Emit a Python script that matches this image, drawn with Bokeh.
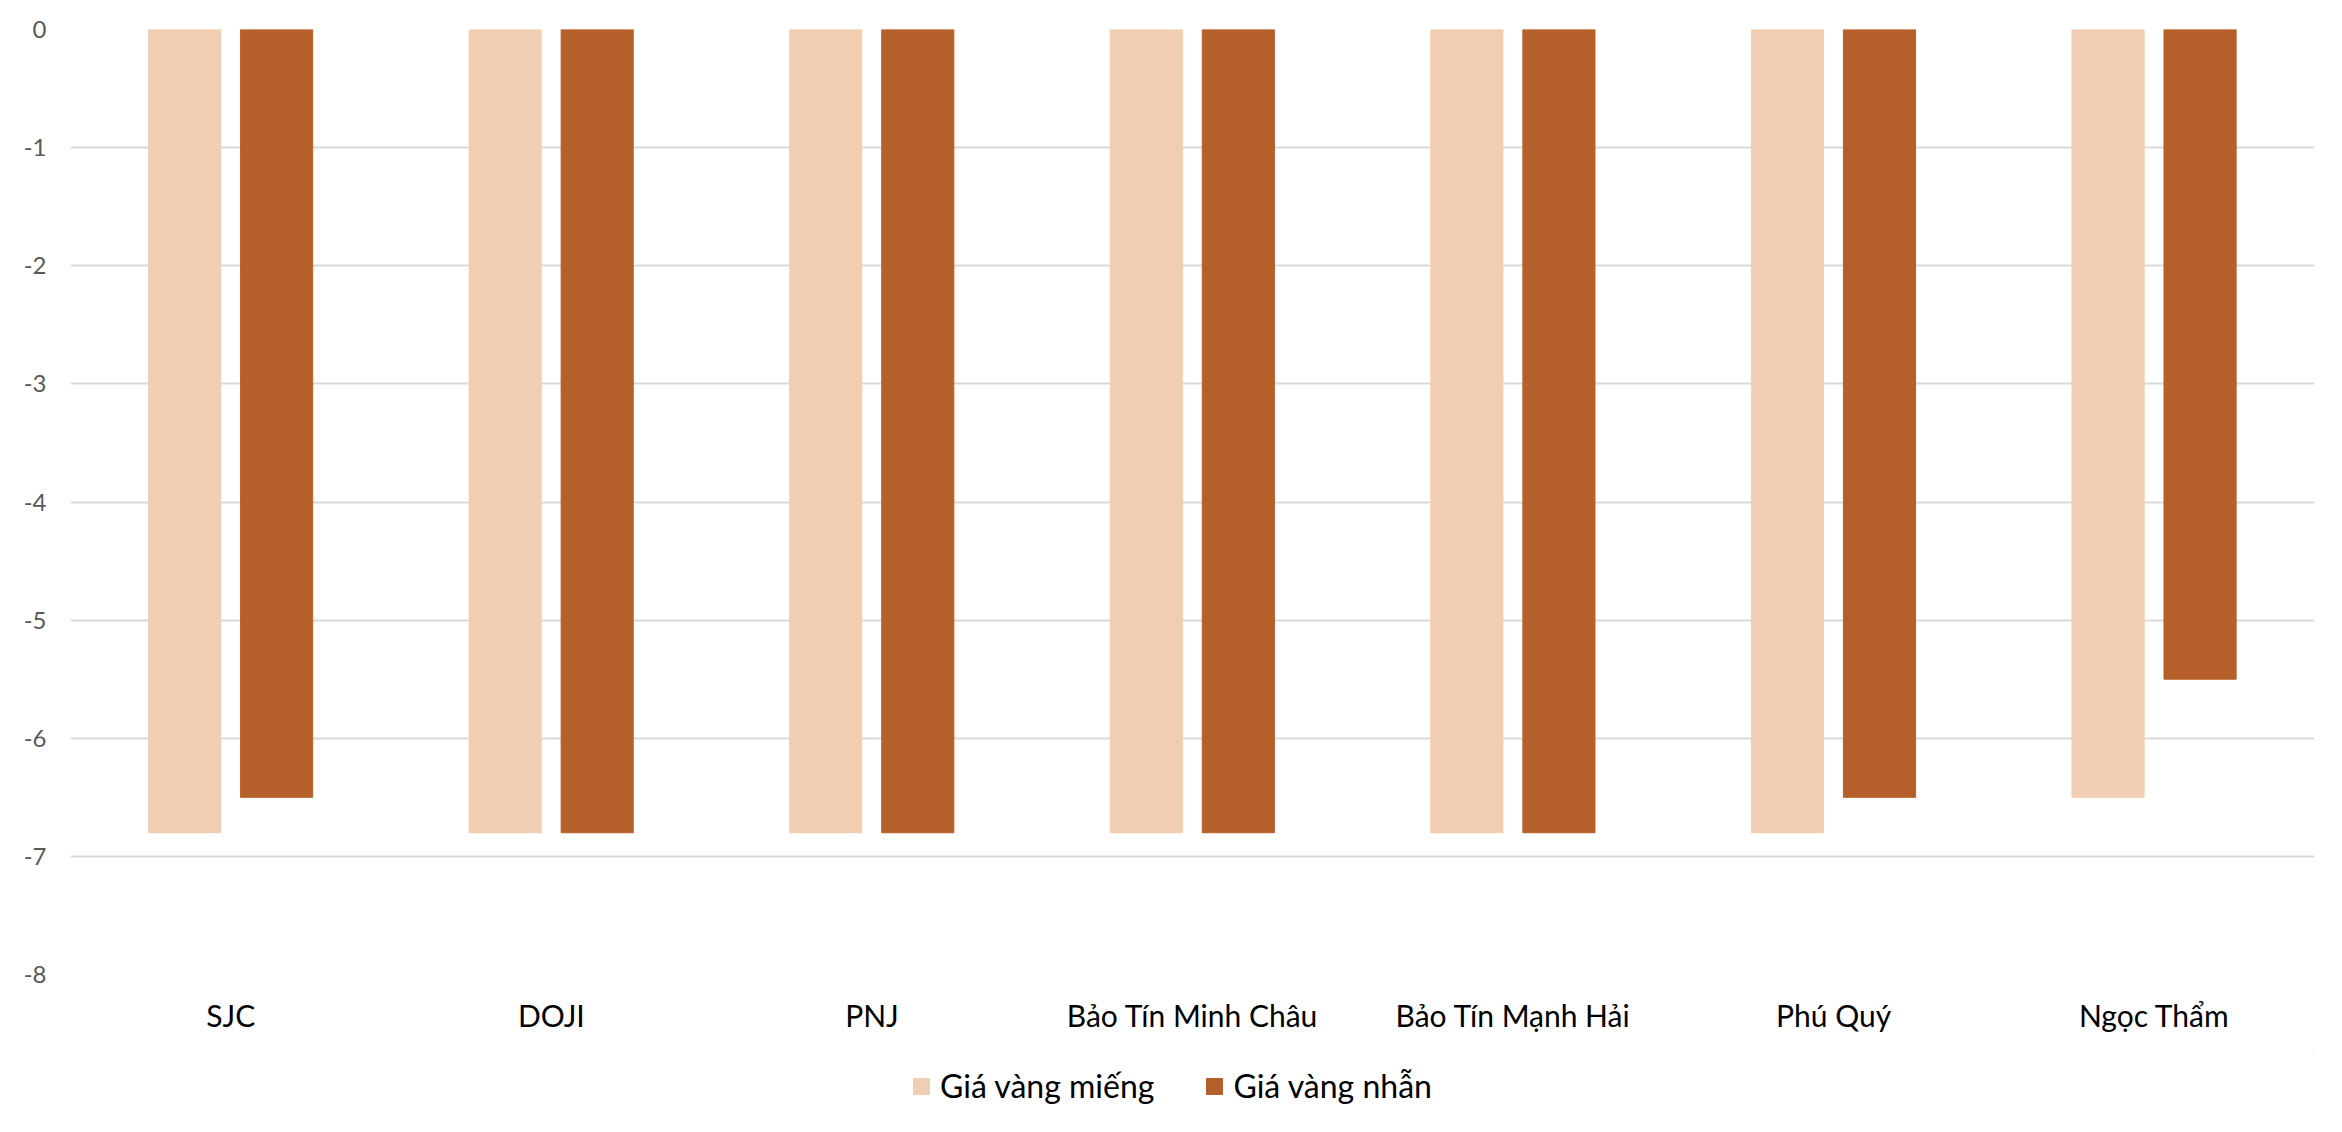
from bokeh.plotting import figure
from bokeh.layouts import column
from bokeh.models import FactorRange, ColumnDataSource, Legend, LegendItem, FixedTicker, Range1d
from bokeh.transform import dodge
from bokeh.embed import file_html
from bokeh.resources import INLINE

categories = ["SJC", "DOJI", "PNJ", "Bảo Tín Minh Châu", "Bảo Tín Mạnh Hải", "Phú Quý", "Ngọc Thẩm"]
gia_vang_mieng = [-6.8, -6.8, -6.8, -6.8, -6.8, -6.8, -6.5]
gia_vang_nhan = [-6.5, -6.8, -6.8, -6.8, -6.8, -6.5, -5.5]
series_names = ["Giá vàng miếng", "Giá vàng nhẫn"]
y_ticks = [0, -1, -2, -3, -4, -5, -6, -7, -8]

FONT = "Lato"
C1 = "#F1CEB1"
C2 = "#B5602A"
W = 2326

src = ColumnDataSource(dict(cat=categories, a=gia_vang_mieng, b=gia_vang_nhan))

p = figure(width=W, height=1050, x_range=FactorRange(factors=categories),
           y_range=(-8, 0), output_backend="svg", toolbar_location=None,
           min_border_left=70, min_border_right=12, min_border_top=29, min_border_bottom=76)
p.outline_line_color = None

r1 = p.vbar(x=dodge("cat", -0.144, range=p.x_range), top=0, bottom="a", width=0.225,
            source=src, fill_color=C1, line_color=C1)
r2 = p.vbar(x=dodge("cat", 0.143, range=p.x_range), top=0, bottom="b", width=0.225,
            source=src, fill_color=C2, line_color=C2)

p.xgrid.grid_line_color = None
p.ygrid.grid_line_color = "#D9D9D9"
p.ygrid.grid_line_width = 2

p.yaxis.ticker = FixedTicker(ticks=y_ticks)
p.yaxis.major_label_overrides = {t: str(t) for t in y_ticks}
for ax in (p.xaxis[0], p.yaxis[0]):
    ax.axis_line_color = None
    ax.major_tick_line_color = None
    ax.minor_tick_line_color = None
    ax.major_tick_out = 0
    ax.major_tick_in = 0
    ax.minor_tick_out = 0
    ax.major_label_text_font = FONT
p.yaxis.major_label_text_color = "#595959"
p.yaxis.major_label_text_font_size = "24px"
p.yaxis.major_label_standoff = 24
p.xaxis.major_label_text_color = "#000000"
p.xaxis.major_label_text_font_size = "30px"
p.xaxis.major_label_standoff = 22

# legend strip below the chart (frames are aligned with the chart above)
lg = figure(width=W, height=66, x_range=Range1d(0, 1), y_range=Range1d(0, 1),
            x_axis_type=None, y_axis_type=None, output_backend="svg", toolbar_location=None,
            min_border_left=0, min_border_right=0, min_border_top=0, min_border_bottom=0)
lg.outline_line_color = None
lg.xgrid.visible = False
lg.ygrid.visible = False
# swatch renderers kept outside the visible range; only their legend glyphs show
l1 = lg.vbar(x=[5], top=[5], bottom=[4], width=0.1, fill_color=C1, line_color=C1)
l2 = lg.vbar(x=[5], top=[5], bottom=[4], width=0.1, fill_color=C2, line_color=C2)

legend = Legend(items=[LegendItem(label=series_names[0], renderers=[l1]),
                       LegendItem(label=series_names[1], renderers=[l2])],
                orientation="horizontal", location=(841, 11),
                label_text_font=FONT, label_text_font_size="32px",
                label_text_color="#000000", glyph_width=20, glyph_height=20,
                label_standoff=9, spacing=50, padding=0, margin=0,
                border_line_color=None, background_fill_alpha=0)
lg.add_layout(legend, "center")

layout = column(p, lg, spacing=0)
open("out.html", "w").write(file_html(layout, INLINE))
